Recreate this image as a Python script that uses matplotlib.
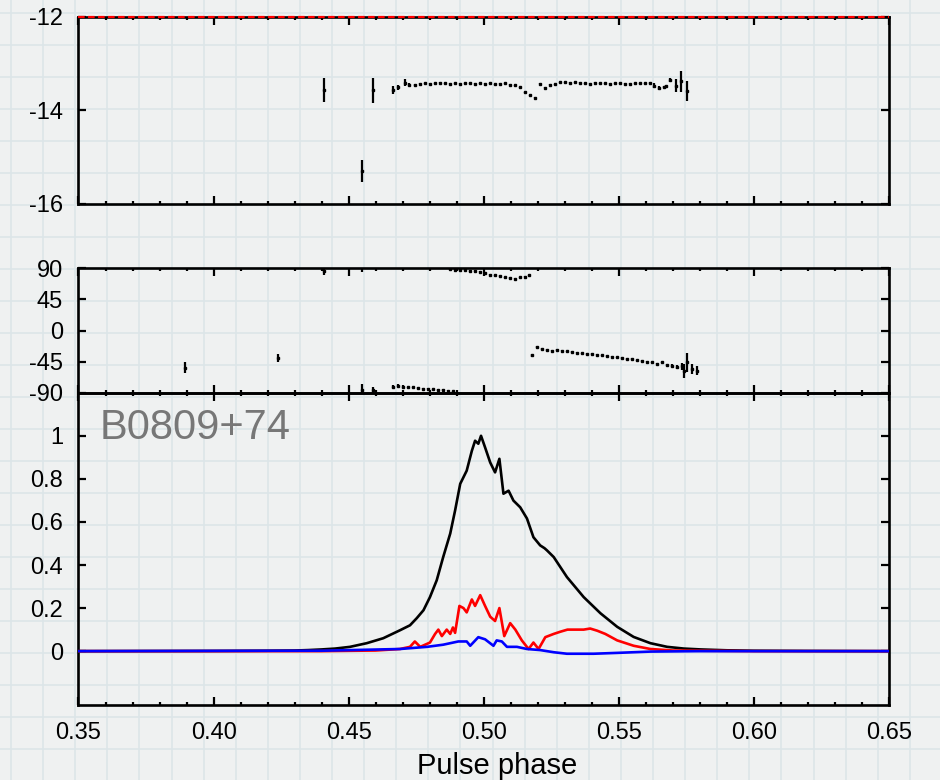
import numpy as np
import matplotlib
matplotlib.use("Agg")
import matplotlib.pyplot as plt
from matplotlib.ticker import MultipleLocator, FixedLocator

plt.rcParams['font.family'] = ['Liberation Sans', 'DejaVu Sans']
plt.rcParams['axes.unicode_minus'] = False

# ---- top panel: points with vertical error bars ----
top_phase = [0.4408, 0.4549, 0.4590, 0.4666, 0.4684, 0.4709, 0.4724, 0.4746,
             0.4765, 0.4783, 0.4802, 0.4820, 0.4839, 0.4857, 0.4876, 0.4894,
             0.4913, 0.4931, 0.4950, 0.4968, 0.4987, 0.5005, 0.5024, 0.5042,
             0.5061, 0.5079, 0.5098, 0.5116, 0.5135, 0.5153, 0.5172, 0.5190,
             0.5209, 0.5227, 0.5246, 0.5264, 0.5283, 0.5301, 0.5320, 0.5338,
             0.5357, 0.5375, 0.5394, 0.5412, 0.5431, 0.5449, 0.5468, 0.5486,
             0.5505, 0.5523, 0.5542, 0.5560, 0.5579, 0.5597, 0.5616, 0.5629,
             0.5648, 0.5666, 0.5676, 0.5691, 0.5710, 0.5731, 0.5751]
top_val = [-13.57, -15.30, -13.57, -13.57, -13.51, -13.41, -13.45, -13.45,
           -13.43, -13.42, -13.43, -13.42, -13.41, -13.42, -13.43, -13.42,
           -13.43, -13.42, -13.42, -13.43, -13.42, -13.43, -13.42, -13.44,
           -13.43, -13.42, -13.45, -13.46, -13.51, -13.61, -13.68, -13.73,
           -13.43, -13.52, -13.45, -13.44, -13.40, -13.40, -13.41, -13.40,
           -13.41, -13.42, -13.43, -13.41, -13.42, -13.42, -13.43, -13.42,
           -13.42, -13.43, -13.43, -13.42, -13.42, -13.42, -13.41, -13.47,
           -13.52, -13.50, -13.49, -13.35, -13.47, -13.38, -13.59]
top_err = [0.25, 0.23, 0.27, 0.09, 0.06, 0.08, 0.04, 0.02,
           0.01, 0.01, 0.01, 0.01, 0.01, 0.01, 0.01, 0.01,
           0.01, 0.01, 0.01, 0.01, 0.01, 0.01, 0.01, 0.01,
           0.01, 0.01, 0.01, 0.01, 0.01, 0.01, 0.01, 0.01,
           0.01, 0.01, 0.01, 0.01, 0.01, 0.01, 0.01, 0.01,
           0.01, 0.01, 0.01, 0.01, 0.01, 0.01, 0.01, 0.01,
           0.01, 0.01, 0.01, 0.01, 0.01, 0.01, 0.02, 0.05,
           0.04, 0.03, 0.03, 0.05, 0.14, 0.23, 0.21]

# ---- middle panel: position angle (deg) ----
pa_phase = [0.3893, 0.4237, 0.4408, 0.4549, 0.4549, 0.4590,
            0.4666, 0.4684, 0.4702, 0.4721, 0.4740, 0.4758, 0.4777, 0.4795,
            0.4814, 0.4832, 0.4851, 0.4869, 0.4888,
            0.4876, 0.4894, 0.4913, 0.4931, 0.4950, 0.4968, 0.4987, 0.5005,
            0.5024, 0.5042, 0.5061, 0.5079, 0.5098, 0.5116, 0.5135, 0.5153, 0.5166,
            0.5178, 0.5197, 0.5215, 0.5234, 0.5252, 0.5271, 0.5289, 0.5308,
            0.5326, 0.5345, 0.5363, 0.5382, 0.5400, 0.5419, 0.5437, 0.5456,
            0.5474, 0.5493, 0.5511, 0.5530, 0.5548, 0.5567, 0.5585, 0.5604,
            0.5622, 0.5641, 0.5659, 0.5678, 0.5696, 0.5715, 0.5733, 0.5742,
            0.5752, 0.5770, 0.5789]
pa_val = [-54, -40, 86, -86, 94, -86,
          -81, -80, -81, -82, -82, -83, -84, -84,
          -85, -86, -86, -87, -88,
          89, 88, 87, 87, 86, 86, 85, 83,
          81, 80, 79, 77, 76, 75, 77, 78, 80,
          -36, -24, -27, -28, -29, -28, -29, -30,
          -31, -32, -33, -34, -34, -35, -36, -37,
          -38, -39, -40, -41, -41, -43, -44, -45,
          -46, -48, -46, -50, -51, -53, -52, -58,
          -46, -56, -58]
pa_err = [8, 6, 5, 9, 9, 4,
          2, 2, 2, 1, 1, 1, 1, 1,
          1, 1, 1, 1, 1,
          1, 1, 1, 1, 1, 1, 1, 1,
          1, 1, 1, 1, 1, 1, 1, 1, 1,
          2, 2, 1, 1, 1, 1, 1, 1,
          1, 1, 1, 1, 1, 1, 1, 1,
          1, 1, 1, 1, 1, 1, 1, 1,
          1, 1, 1, 2, 2, 3, 5, 10,
          14, 7, 7]

# ---- bottom panel: profiles ----
I_phase = [0.35, 0.40, 0.42, 0.43, 0.435, 0.44, 0.445, 0.4505, 0.4567, 0.4628,
           0.469, 0.4727, 0.4752, 0.4777, 0.4801, 0.4826, 0.485, 0.4876, 0.4894,
           0.4913, 0.4937, 0.4956, 0.4968, 0.498, 0.499, 0.5005, 0.5024, 0.5042,
           0.5058, 0.5073, 0.5092, 0.511, 0.5135, 0.516, 0.5184, 0.5209, 0.5225,
           0.5234, 0.5259, 0.5308, 0.537, 0.5432, 0.5494, 0.5555, 0.5617, 0.5679,
           0.5741, 0.5803, 0.59, 0.60, 0.62, 0.65]
I_val = [0.0, 0.001, 0.002, 0.003, 0.005, 0.008, 0.012, 0.02, 0.037, 0.06,
         0.097, 0.12, 0.153, 0.19, 0.251, 0.329, 0.437, 0.546, 0.653,
         0.777, 0.838, 0.93, 0.977, 0.963, 1.0, 0.946, 0.876, 0.83,
         0.893, 0.731, 0.745, 0.699, 0.668, 0.616, 0.529, 0.491, 0.478,
         0.468, 0.437, 0.344, 0.251, 0.176, 0.113, 0.066, 0.037, 0.02,
         0.012, 0.008, 0.004, 0.002, 0.001, 0.0]

L_phase = [0.35, 0.44, 0.46, 0.469, 0.4727, 0.4745, 0.4765, 0.4801, 0.482, 0.4832,
           0.4845, 0.4863, 0.4876, 0.4886, 0.4894, 0.491, 0.4925, 0.4937, 0.4956,
           0.4968, 0.4987, 0.5005, 0.5024, 0.5042, 0.5058, 0.5076, 0.5098, 0.5117,
           0.5141, 0.5166, 0.5184, 0.5203, 0.5228, 0.5259, 0.5283, 0.5310, 0.5340,
           0.5370, 0.5394, 0.5420, 0.5450, 0.5494, 0.5555, 0.5617, 0.57, 0.60, 0.65]
L_val = [0.0, 0.0, 0.003, 0.01, 0.02, 0.045, 0.02, 0.04, 0.08, 0.1,
         0.07, 0.1, 0.08, 0.11, 0.085, 0.21, 0.2, 0.18, 0.24,
         0.21, 0.26, 0.21, 0.16, 0.14, 0.2, 0.07, 0.13, 0.1,
         0.05, 0.01, 0.04, 0.01, 0.065, 0.08, 0.09, 0.1, 0.1,
         0.1, 0.105, 0.095, 0.08, 0.05, 0.025, 0.01, 0.003, 0.0, 0.0]

V_phase = [0.35, 0.44, 0.469, 0.479, 0.485, 0.4906, 0.4937, 0.495, 0.498,
           0.5005, 0.5036, 0.5048, 0.5067, 0.5086, 0.5123, 0.516, 0.5209,
           0.5259, 0.5308, 0.5407, 0.5494, 0.5617, 0.58, 0.65]
V_val = [0.0, 0.002, 0.01, 0.02, 0.03, 0.045, 0.045, 0.025, 0.065,
         0.055, 0.025, 0.05, 0.045, 0.02, 0.02, 0.01, 0.005,
         -0.005, -0.012, -0.012, -0.008, -0.002, 0.0, 0.0]

x_ticks = [0.35, 0.40, 0.45, 0.50, 0.55, 0.60, 0.65]
pulsar_name = "B0809+74"

# ---------------------------------------------------------------------
fig = plt.figure(figsize=(9.4, 7.8), dpi=100)
fig.patch.set_facecolor('#eff1f1')

# graph-paper background
bg = fig.add_axes([0, 0, 1, 1], zorder=-5)
bg.set_xlim(0, 940)
bg.set_ylim(780, 0)
bg.axis('off')
for gx in np.arange(11, 940, 32.1):
    bg.axvline(gx, color='#dce5e8', lw=1.2)
for gy in np.arange(13, 780, 32.0):
    bg.axhline(gy, color='#dce5e8', lw=1.2)

left, width = 0.0835, 0.8622
ax1 = fig.add_axes([left, 0.7385, width, 0.2401])
ax2 = fig.add_axes([left, 0.4965, width, 0.1595])
ax3 = fig.add_axes([left, 0.09615, width, 0.4004])

for ax in (ax1, ax2, ax3):
    ax.set_facecolor('none')
    ax.set_xlim(0.35, 0.65)
    ax.xaxis.set_major_locator(FixedLocator(x_ticks))
    ax.xaxis.set_minor_locator(MultipleLocator(0.01))
    ax.tick_params(which='both', direction='in', top=True, right=True,
                   labelsize=17, colors='black')
    ax.tick_params(which='major', length=6, width=1.6)
    ax.tick_params(which='minor', length=2.5, width=1.6)
    ax.tick_params(axis='y', which='minor', left=False, right=False)
    ax.tick_params(axis='y', pad=11)
    for s in ax.spines.values():
        s.set_linewidth(1.9)
    if ax is not ax3:
        ax.tick_params(labelbottom=False)

# top panel
ax1.set_ylim(-16, -12)
ax1.set_yticks([-16, -14, -12])
ax1.axhline(-12, color='red', lw=1.6, ls=(0, (3, 1.5)), clip_on=False, zorder=5)
ax1.errorbar(top_phase, top_val, yerr=top_err, fmt='s', ms=1.6, color='black',
             elinewidth=1.6, capsize=0)

# middle panel
ax2.set_ylim(-90, 90)
ax2.set_yticks([-90, -45, 0, 45, 90])
ax2.errorbar(pa_phase, pa_val, yerr=pa_err, fmt='s', ms=1.6, color='black',
             elinewidth=1.6, capsize=0)

# bottom panel
ax3.set_ylim(-0.25, 1.2)
ax3.set_yticks([0, 0.2, 0.4, 0.6, 0.8, 1.0])
ax3.set_yticklabels(['0', '0.2', '0.4', '0.6', '0.8', '1'])
ax3.set_xticklabels(['%.2f' % t for t in x_ticks])
ax3.tick_params(axis='x', pad=12.5)
ax3.plot(I_phase, I_val, color='black', lw=1.9, zorder=3)
ax3.plot(L_phase, L_val, color='red', lw=1.9, zorder=4)
ax3.plot(V_phase, V_val, color='blue', lw=1.9, zorder=5)
ax3.text(0.026, 0.853, pulsar_name, transform=ax3.transAxes, fontsize=30,
         color='#777777', va='baseline', ha='left')
ax3.set_xlabel('Pulse phase', fontsize=21)
ax3.xaxis.set_label_coords(0.516, -0.150)

fig.savefig('out.png', dpi=100)
